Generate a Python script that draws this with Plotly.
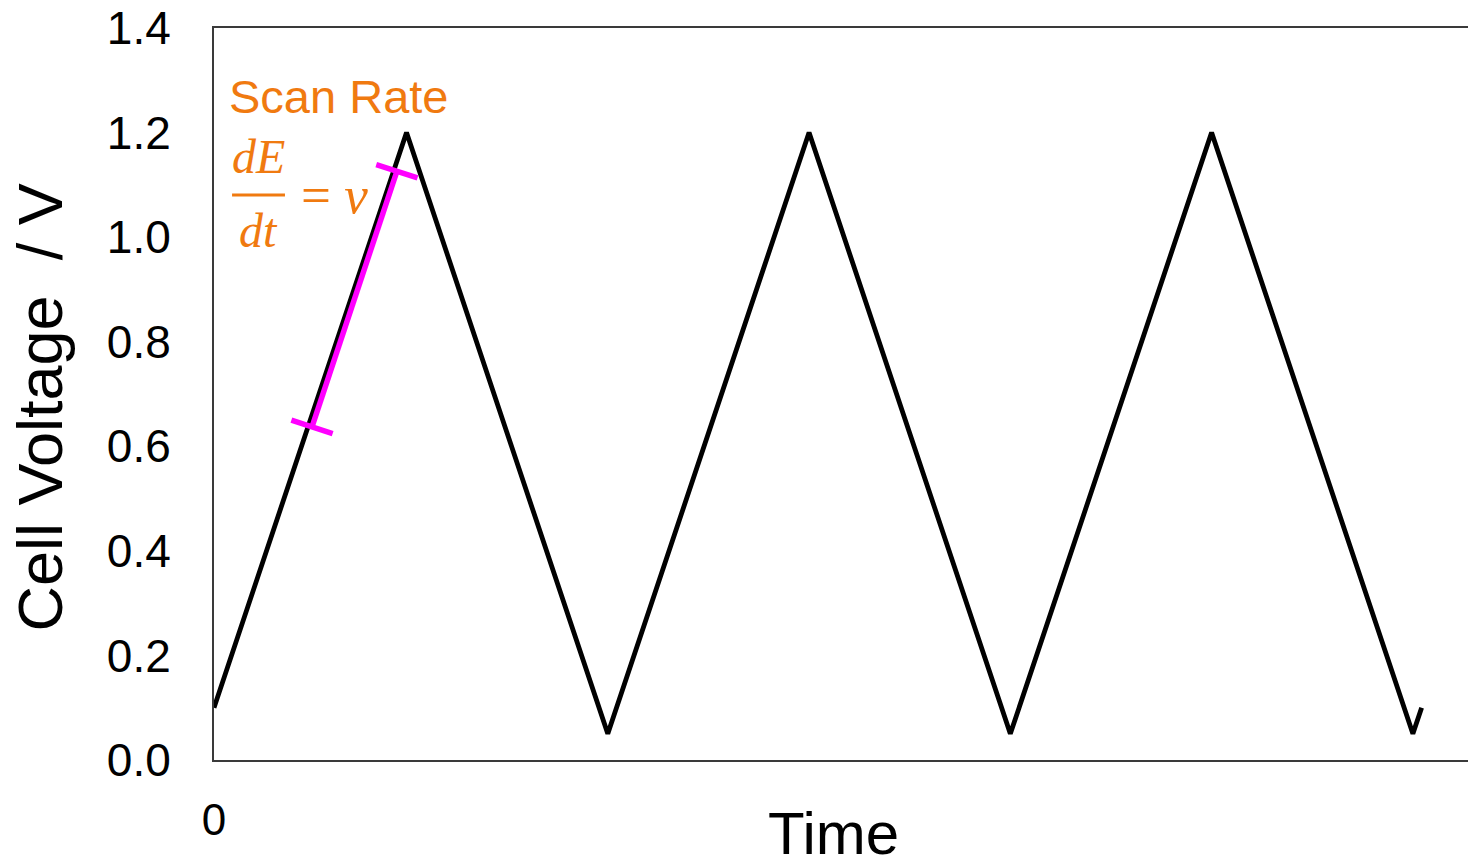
import plotly.graph_objects as go

# Triangular potential sweep (cyclic voltammetry waveform)
time_s = [0, 22, 45, 68, 91, 114, 137, 138]
voltage_v = [0.10, 1.20, 0.05, 1.20, 0.05, 1.20, 0.05, 0.10]

# Segment marking the scan rate on the first anodic sweep
scan_t = [11.2, 20.9]
scan_v = [0.637, 1.126]

y_ticks = [0.0, 0.2, 0.4, 0.6, 0.8, 1.0, 1.2, 1.4]
x_ticks = [0]
x_tick_text = ["0"]

ORANGE = "#F07A10"
MAGENTA = "#FF00FF"
SANS = "Liberation Sans, Arial, sans-serif"
SERIF = "Liberation Serif, Times New Roman, serif"

fig = go.Figure()

fig.add_trace(go.Scatter(
    x=time_s, y=voltage_v, mode="lines",
    line=dict(color="black", width=4.8),
    showlegend=False, hoverinfo="skip",
))

fig.add_trace(go.Scatter(
    x=scan_t, y=scan_v, mode="lines+markers",
    line=dict(color=MAGENTA, width=5.5),
    marker=dict(symbol="line-ew", size=31, angle=18,
                line=dict(color=MAGENTA, width=5.5)),
    showlegend=False, hoverinfo="skip",
))

# Text: "Scan Rate" and dE/dt = v
fig.add_annotation(text="Scan Rate", xref="paper", yref="paper",
                   x=0.0105, y=0.906, xanchor="left", yanchor="middle",
                   showarrow=False, font=dict(family=SANS, size=47, color=ORANGE))
fig.add_annotation(text="<i>dE</i>", xref="paper", yref="paper",
                   x=0.0351, y=0.825, xanchor="center", yanchor="middle",
                   showarrow=False, font=dict(family=SERIF, size=48, color=ORANGE))
fig.add_annotation(text="<i>dt</i>", xref="paper", yref="paper",
                   x=0.0351, y=0.724, xanchor="center", yanchor="middle",
                   showarrow=False, font=dict(family=SERIF, size=48, color=ORANGE))
fig.add_annotation(text="= <i>v</i>", xref="paper", yref="paper",
                   x=0.0678, y=0.772, xanchor="left", yanchor="middle",
                   showarrow=False, font=dict(family=SERIF, size=53, color=ORANGE))
fig.add_shape(type="line", xref="paper", yref="paper",
              x0=0.0144, x1=0.0566, y0=0.7719, y1=0.7719,
              line=dict(color=ORANGE, width=3))

# Axis titles
fig.add_annotation(text="Cell Voltage  / V", xref="paper", yref="paper",
                   x=-0.139, y=0.481, xanchor="center", yanchor="middle",
                   textangle=-90, showarrow=False,
                   font=dict(family=SANS, size=63, color="black"))
fig.add_annotation(text="Time", xref="paper", yref="paper",
                   x=0.4944, y=-0.101, xanchor="center", yanchor="middle",
                   showarrow=False, font=dict(family=SANS, size=60, color="black"))

fig.update_layout(
    width=1468, height=868,
    margin=dict(l=214, r=0, t=28, b=108),
    paper_bgcolor="white", plot_bgcolor="white",
    xaxis=dict(range=[0, 143.3], tickvals=x_ticks, ticktext=x_tick_text,
               showgrid=False, zeroline=False, ticks="",
               showline=True, linecolor="#3a3a3a", linewidth=2, mirror=True,
               ticklabelstandoff=20,
               tickfont=dict(family=SANS, size=44, color="black")),
    yaxis=dict(range=[0, 1.4], tickvals=y_ticks, tickformat=".1f",
               showgrid=False, zeroline=False, ticks="",
               showline=True, linecolor="#3a3a3a", linewidth=2,
               ticklabelstandoff=32,
               tickfont=dict(family=SANS, size=46, color="black")),
)

fig.write_html("out.html")
